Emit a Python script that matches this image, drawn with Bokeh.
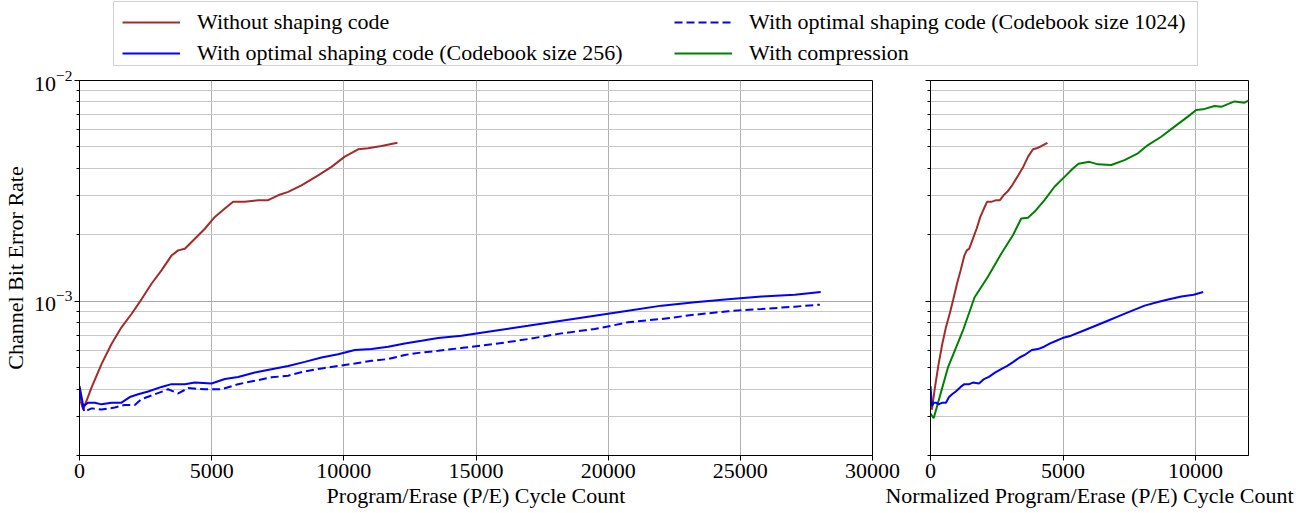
from bokeh.plotting import figure
from bokeh.models import Range1d, FixedTicker, Legend, LegendItem, CustomJSTickFormatter
from bokeh.layouts import column, row
from bokeh.embed import file_html
from bokeh.resources import INLINE

FONT = "Liberation Serif"
RED = "#a52a2a"
BLUE = "#0000ff"
GREEN = "#008000"

# ---------------- data ----------------
# Without shaping code (P/E cycles, BER)
red_x = [0, 140, 454, 832, 1210, 1588, 1966, 2345, 2723, 3101, 3480, 3733, 3985, 4363,
         4741, 5120, 5498, 5813, 6255, 6759, 7137, 7515, 7894, 8397, 9028, 9533, 10036,
         10541, 10919, 11423, 12028]
red_y = [3.66e-4, 3.23e-4, 4.06e-4, 5.19e-4, 6.4e-4, 7.62e-4, 8.75e-4, 1.02e-3, 1.2e-3,
         1.38e-3, 1.61e-3, 1.7e-3, 1.73e-3, 1.92e-3, 2.13e-3, 2.41e-3, 2.63e-3, 2.82e-3,
         2.82e-3, 2.87e-3, 2.87e-3, 3.02e-3, 3.13e-3, 3.35e-3, 3.72e-3, 4.06e-3, 4.52e-3,
         4.88e-3, 4.93e-3, 5.05e-3, 5.22e-3]

# With optimal shaping code (Codebook size 256)
b256_x = [0, 140, 329, 580, 832, 1210, 1588, 1903, 2220, 2598, 3101, 3480, 3985, 4363,
          4993, 5498, 6003, 6632, 7262, 7894, 8524, 9155, 9786, 10416, 11046, 11677,
          12307, 12939, 13569, 14450, 15710, 16970, 18230, 19490, 20750, 22020, 23280,
          24540, 25800, 27060, 28040]
b256_y = [4.13e-4, 3.35e-4, 3.47e-4, 3.47e-4, 3.41e-4, 3.47e-4, 3.47e-4, 3.68e-4, 3.79e-4,
          3.9e-4, 4.09e-4, 4.21e-4, 4.21e-4, 4.28e-4, 4.24e-4, 4.44e-4, 4.54e-4, 4.75e-4,
          4.92e-4, 5.09e-4, 5.31e-4, 5.56e-4, 5.75e-4, 6.01e-4, 6.07e-4, 6.22e-4, 6.44e-4,
          6.62e-4, 6.81e-4, 6.98e-4, 7.35e-4, 7.74e-4, 8.16e-4, 8.6e-4, 9.06e-4, 9.55e-4,
          9.89e-4, 1.02e-3, 1.05e-3, 1.07e-3, 1.1e-3]

# With optimal shaping code (Codebook size 1024)
b1024_x = [0, 178, 454, 832, 1336, 1714, 2092, 2345, 2849, 3354, 3733, 4111, 4741, 5372,
           6003, 6632, 7262, 7894, 8524, 9155, 9786, 10416, 11046, 11677, 12307, 12939,
           13569, 14500, 15710, 16970, 18230, 19490, 20120, 20750, 22020, 23280, 24540,
           25800, 27060, 28010]
b1024_y = [3.9e-4, 3.16e-4, 3.27e-4, 3.23e-4, 3.3e-4, 3.39e-4, 3.39e-4, 3.6e-4, 3.79e-4,
           3.99e-4, 3.82e-4, 4.04e-4, 3.99e-4, 3.99e-4, 4.21e-4, 4.36e-4, 4.52e-4, 4.6e-4,
           4.81e-4, 4.96e-4, 5.09e-4, 5.22e-4, 5.37e-4, 5.47e-4, 5.71e-4, 5.86e-4, 5.96e-4,
           6.15e-4, 6.4e-4, 6.74e-4, 7.15e-4, 7.48e-4, 7.74e-4, 8.03e-4, 8.31e-4, 8.69e-4,
           9.01e-4, 9.22e-4, 9.45e-4, 9.65e-4]

# With compression (normalized P/E cycles)
green_x = [0, 120, 656, 1222, 1660, 2166, 2668, 3110, 3423, 3675, 3925, 4302, 4679, 5057,
           5374, 5585, 6000, 6317, 6819, 7321, 7826, 8204, 8706, 9208, 9713, 10026, 10279,
           10717, 10970, 11472, 11850, 12000]
green_y = [3.1e-4, 2.95e-4, 5.0e-4, 7.35e-4, 1.04e-3, 1.29e-3, 1.64e-3, 1.99e-3, 2.37e-3,
           2.39e-3, 2.54e-3, 2.87e-3, 3.3e-3, 3.66e-3, 3.99e-3, 4.2e-3, 4.28e-3, 4.17e-3,
           4.14e-3, 4.36e-3, 4.68e-3, 5.1e-3, 5.56e-3, 6.18e-3, 6.86e-3, 7.35e-3, 7.4e-3,
           7.67e-3, 7.6e-3, 8.04e-3, 7.93e-3, 8.1e-3]

# normalization factor of P/E cycles for right panel
NORM = 2.725

labels = ["Without shaping code",
          "With optimal shaping code (Codebook size 256)",
          "With optimal shaping code (Codebook size 1024)",
          "With compression"]

left_xticks = [0, 5000, 10000, 15000, 20000, 25000, 30000]
right_xticks = [0, 5000, 10000]
y_major = [1e-3, 1e-2]
y_minor = [2e-4, 3e-4, 4e-4, 5e-4, 6e-4, 7e-4, 8e-4, 9e-4,
           2e-3, 3e-3, 4e-3, 5e-3, 6e-3, 7e-3, 8e-3, 9e-3]


def style(p):
    p.outline_line_color = "black"
    p.outline_line_width = 1
    for ax in (p.xaxis[0], p.yaxis[0]):
        ax.axis_line_color = "black"
        ax.major_tick_line_color = "black"
        ax.minor_tick_line_color = "black"
        ax.major_tick_out = 5
        ax.major_tick_in = 0
        ax.minor_tick_out = 3
        ax.minor_tick_in = 0
        ax.major_label_text_font = FONT
        ax.major_label_text_font_size = "22px"
        ax.major_label_text_color = "black"
        ax.axis_label_text_font = FONT
        ax.axis_label_text_font_size = "22px"
        ax.axis_label_text_font_style = "normal"
        ax.axis_label_text_color = "black"
    p.xaxis[0].major_label_standoff = 3
    p.xaxis[0].axis_label_standoff = 2
    p.yaxis[0].major_label_standoff = 2
    p.yaxis[0].axis_label_standoff = 3
    yt = FixedTicker(ticks=y_major, minor_ticks=y_minor)
    p.yaxis[0].ticker = yt
    p.ygrid[0].ticker = yt
    p.xgrid.grid_line_color = "#b0b0b0"
    p.ygrid.grid_line_color = "#a8a8a8"
    p.ygrid.minor_grid_line_color = "#c8c8c8"
    p.ygrid.minor_grid_line_width = 1.2
    p.background_fill_color = "white"


# ---------------- left panel ----------------
pl = figure(width=897, height=429, frame_width=793, frame_height=375,
            x_range=Range1d(0, 30000), y_range=Range1d(2e-4, 1e-2), y_axis_type="log",
            toolbar_location=None, output_backend="svg",
            min_border_left=70, min_border_right=34, min_border_top=14, min_border_bottom=40)
style(pl)
xt = FixedTicker(ticks=left_xticks, minor_ticks=[])
pl.xaxis[0].ticker = xt
pl.xgrid[0].ticker = xt
pl.xaxis.axis_label = "Program/Erase (P/E) Cycle Count"
pl.yaxis.axis_label = "Channel Bit Error Rate"
pl.line(red_x, red_y, color=RED, line_width=2)
pl.line(b256_x, b256_y, color=BLUE, line_width=2)
pl.line(b1024_x, b1024_y, color=BLUE, line_width=2, line_dash="8 4")

# ---------------- right panel ----------------
pr = figure(width=415, height=429, frame_width=318, frame_height=375,
            x_range=Range1d(0, 12000), y_range=Range1d(2e-4, 1e-2), y_axis_type="log",
            toolbar_location=None, output_backend="svg",
            min_border_left=47, min_border_right=50, min_border_top=14, min_border_bottom=40)
style(pr)
xt2 = FixedTicker(ticks=right_xticks, minor_ticks=[])
pr.xaxis[0].ticker = xt2
pr.xgrid[0].ticker = xt2
pr.yaxis[0].formatter = CustomJSTickFormatter(code="return ''")
pr.xaxis.axis_label = "Normalized Program/Erase (P/E) Cycle Count"
pr.border_fill_alpha = 0
pr.line([v / NORM for v in red_x], red_y, color=RED, line_width=2)
pr.line(green_x, green_y, color=GREEN, line_width=2)
pr.line([v / NORM for v in b256_x], b256_y, color=BLUE, line_width=2)
pr.margin = (0, 0, 0, -23)

# ---------------- legend (own strip; frame outline is the legend box) ----------------
pg = figure(width=1289, height=66, frame_width=1084, frame_height=64,
            x_range=Range1d(-2, -1), y_range=Range1d(-2, -1),
            toolbar_location=None, output_backend="svg",
            min_border_left=113, min_border_right=92, min_border_top=1, min_border_bottom=1)
pg.axis.visible = False
pg.grid.visible = False
pg.outline_line_color = "#d0d0d0"
pg.outline_line_width = 1
g1 = pg.line(red_x, red_y, color=RED, line_width=2)
g2 = pg.line(b256_x, b256_y, color=BLUE, line_width=2)
g3 = pg.line(b1024_x, b1024_y, color=BLUE, line_width=2, line_dash="8 4")
g4 = pg.line(green_x, green_y, color=GREEN, line_width=2)


def make_legend(items, x):
    return Legend(items=items, location=(x, -1),
                  label_text_font=FONT, label_text_font_size="22px",
                  label_text_color="black",
                  glyph_width=58, glyph_height=20, label_standoff=17,
                  spacing=5, padding=4, margin=0,
                  border_line_color=None, background_fill_alpha=0)


pg.add_layout(make_legend([LegendItem(label=labels[0], renderers=[g1]),
                           LegendItem(label=labels[1], renderers=[g2])], 9))
pg.add_layout(make_legend([LegendItem(label=labels[2], renderers=[g3]),
                           LegendItem(label=labels[3], renderers=[g4])], 561))

layout = column(pg, row(pl, pr))
open("out.html", "w").write(file_html(layout, INLINE))
